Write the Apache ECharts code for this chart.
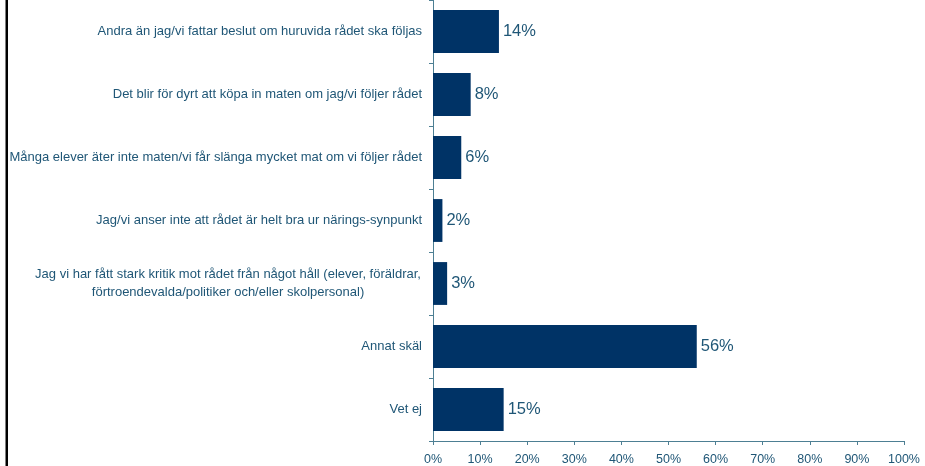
<!DOCTYPE html>
<html>
<head>
<meta charset="utf-8">
<script src="https://cdn.jsdelivr.net/npm/echarts@6/dist/echarts.min.js"></script>
<style>
html,body{margin:0;padding:0;background:#fff;}
#c{width:925px;height:466px;}
</style>
</head>
<body>
<div id="c"></div>
<script>
const categories = [
  "Andra än jag/vi fattar beslut om huruvida rådet ska följas",
  "Det blir för dyrt att köpa in maten om jag/vi följer rådet",
  "Många elever äter inte maten/vi får slänga mycket mat om vi följer rådet",
  "Jag/vi anser inte att rådet är helt bra ur närings-synpunkt",
  "Jag vi har fått stark kritik mot rådet från något håll (elever, föräldrar,\nförtroendevalda/politiker och/eller skolpersonal)",
  "Annat skäl",
  "Vet ej"
];
const values = [14, 8, 6, 2, 3, 56, 15];
const tickLabels = ["0%","10%","20%","30%","40%","50%","60%","70%","80%","90%","100%"];

const chart = echarts.init(document.getElementById('c'), null, {renderer: 'canvas'});
const textColor = '#1f5676';
const axisColor = '#4d7f93';
const font = 'Liberation Sans, Arial, sans-serif';
chart.setOption({
  animation: false,
  backgroundColor: '#fff',
  grid: {left: 433, right: 21, top: -1, bottom: 24.5, containLabel: false},
  xAxis: {
    type: 'value', min: 0, max: 100, interval: 10,
    axisLine: {show: true, lineStyle: {color: axisColor, width: 1}},
    axisTick: {show: true, length: 4, lineStyle: {color: axisColor}},
    splitLine: {show: false},
    axisLabel: {formatter: function (v) { return tickLabels[Math.round(v / 10)]; }, color: textColor, fontFamily: font, fontSize: 12.5, margin: 12}
  },
  yAxis: {
    type: 'category', data: categories, inverse: true,
    axisLine: {show: true, lineStyle: {color: axisColor, width: 1}},
    axisTick: {show: true, length: 4, lineStyle: {color: axisColor}},
    axisLabel: {
      color: textColor, fontFamily: font, fontSize: 13, margin: 11, align: 'right', lineHeight: 18,
      formatter: function (v) {
        if (v.indexOf('\n') >= 0) {
          return v.split('\n').map(function (s) { return '{c|' + s + '}'; }).join('\n');
        }
        return v;
      },
      rich: {c: {width: 388, align: 'center', fontSize: 13, fontFamily: font, color: textColor, lineHeight: 18}}
    }
  },
  series: [{
    type: 'bar', data: values, barCategoryGap: '32%',
    itemStyle: {color: '#003366'},
    label: {show: true, position: 'right', formatter: '{c}%', color: textColor, fontFamily: font, fontSize: 16.5, distance: 4}
  }],
  graphic: [{
    type: 'rect', shape: {x: 5.5, y: 0, width: 2.5, height: 466}, style: {fill: '#000'}
  }]
});
</script>
</body>
</html>
